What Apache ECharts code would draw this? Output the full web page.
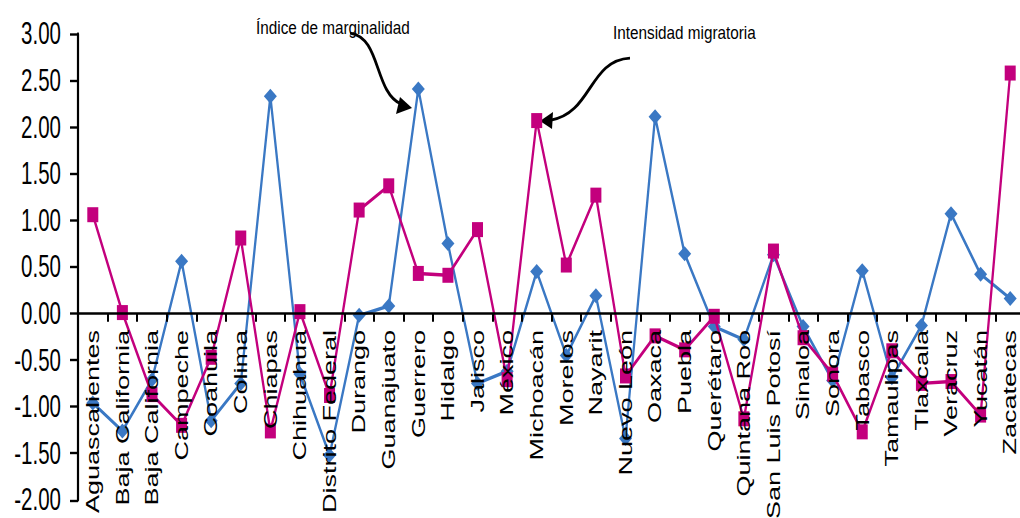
<!DOCTYPE html>
<html>
<head>
<meta charset="utf-8">
<script src="https://cdn.jsdelivr.net/npm/echarts@6/dist/echarts.min.js"></script>
<style>
  html, body { margin: 0; padding: 0; background: #fff; overflow: hidden; }
  #stage { width: 1020px; height: 518px; position: relative; overflow: hidden; }
  /* the chart is laid out at 2/3 height and stretched back to full height */
  #chart { position: absolute; left: 0; top: 0; width: 1020px; height: 345.333px;
           transform: scaleY(1.5); transform-origin: 0 0; }
</style>
</head>
<body>
<div id="stage"><div id="chart"></div></div>
<script>
const STRETCH = 1.5;

const estados = [
  'Aguascalientes', 'Baja California', 'Baja California', 'Campeche', 'Coahuila',
  'Colima', 'Chiapas', 'Chihuahua', 'Distrito Federal', 'Durango', 'Guanajuato',
  'Guerrero', 'Hidalgo', 'Jalisco', 'México', 'Michoacán', 'Morelos', 'Nayarit',
  'Nuevo León', 'Oaxaca', 'Puebla', 'Querétaro', 'Quintana Roo', 'San Luis Potosí',
  'Sinaloa', 'Sonora', 'Tabasco', 'Tamaulipas', 'Tlaxcala', 'Veracruz', 'Yucatán',
  'Zacatecas'
];

const indiceMarginalidad = [
  -0.96, -1.26, -0.71, 0.56, -1.15, -0.75, 2.33, -0.65, -1.52, -0.02, 0.08,
  2.41, 0.75, -0.75, -0.62, 0.45, -0.45, 0.19, -1.34, 2.11, 0.64, -0.14,
  -0.28, 0.63, -0.14, -0.72, 0.46, -0.69, -0.13, 1.07, 0.42, 0.16
];

const intensidadMigratoria = [
  1.06, 0.01, -0.87, -1.20, -0.47, 0.81, -1.26, 0.02, -0.88, 1.11, 1.37,
  0.43, 0.41, 0.90, -0.71, 2.07, 0.52, 1.27, -0.67, -0.24, -0.39, -0.03,
  -1.13, 0.67, -0.26, -0.65, -1.27, -0.40, -0.75, -0.73, -1.09, 2.58
];

const yMin = -2, yMax = 3, yStep = 0.5;

const FONT = "'Liberation Sans', Arial, sans-serif";
const BLUE = '#3A78C4';
const MAGENTA = '#C3007D';

// plot area in page pixels, converted to the unstretched layout
const plotTop = 33.9 / STRETCH;
const plotBottom = 499.9 / STRETCH;
const plotHeight = plotBottom - plotTop;
// the category axis sits on the zero line of the value axis
const zeroLift = (0 - yMin) / (yMax - yMin) * plotHeight;

const chart = echarts.init(document.getElementById('chart'), null, { renderer: 'svg' });

chart.setOption({
  animation: false,
  backgroundColor: '#fff',
  grid: {
    left: 78, width: 947,
    top: plotTop, height: plotHeight,
    containLabel: false,
    outerBoundsMode: 'none'
  },
  xAxis: {
    type: 'category',
    data: estados,
    boundaryGap: true,
    position: 'bottom',
    offset: -zeroLift,
    z: 10,
    axisLine: { onZero: false, lineStyle: { color: '#000', width: 1.7 } },
    axisTick: { show: true, length: 5.5, lineStyle: { color: '#000', width: 2 } },
    axisLabel: {
      interval: 0, rotate: 90, margin: 11, hideOverlap: false,
      fontFamily: FONT, fontSize: 18, color: '#000'
    },
    splitLine: { show: false }
  },
  yAxis: {
    type: 'value',
    min: yMin, max: yMax, interval: yStep,
    axisLine: { show: true, lineStyle: { color: '#000', width: 2.2 } },
    axisTick: { show: true, length: 8, lineStyle: { color: '#000', width: 1.6 } },
    axisLabel: {
      margin: 17, fontFamily: FONT, fontSize: 20.5, color: '#000',
      showMinLabel: true, showMaxLabel: true, hideOverlap: false,
      formatter: v => v.toFixed(2)
    },
    splitLine: { show: false }
  },
  series: [
    {
      name: 'Índice de marginalidad',
      type: 'line',
      data: indiceMarginalidad,
      symbol: 'diamond',
      symbolSize: [13, 10],
      itemStyle: { color: BLUE },
      lineStyle: { color: BLUE, width: 2.3 },
      z: 2
    },
    {
      name: 'Intensidad migratoria',
      type: 'line',
      data: intensidadMigratoria,
      symbol: 'rect',
      symbolSize: [11, 10],
      itemStyle: { color: MAGENTA },
      lineStyle: { color: MAGENTA, width: 2.3 },
      z: 3
    }
  ],
  graphic: {
    elements: [{
      // annotations drawn in page pixels: undo the vertical stretch
      type: 'group',
      scaleY: 1 / STRETCH,
      z: 20,
      children: [
        {
          type: 'text', x: 256, y: 27.5, scaleY: 1.22,
          style: { text: 'Índice de marginalidad', fontSize: 15.3, fontFamily: FONT,
                   fill: '#000', verticalAlign: 'middle', align: 'left' }
        },
        {
          type: 'text', x: 613, y: 32.5, scaleY: 1.22,
          style: { text: 'Intensidad migratoria', fontSize: 15.3, fontFamily: FONT,
                   fill: '#000', verticalAlign: 'middle', align: 'left' }
        },
        {
          type: 'bezierCurve',
          shape: { x1: 350, y1: 33, cpx1: 381, cpy1: 37, cpx2: 374, cpy2: 92, x2: 401, y2: 104 },
          style: { stroke: '#000', lineWidth: 2.8, fill: null }
        },
        {
          type: 'polygon',
          shape: { points: [[412, 108], [400, 97], [396, 114]] },
          style: { fill: '#000' }
        },
        {
          type: 'bezierCurve',
          shape: { x1: 630, y1: 58, cpx1: 589, cpy1: 60, cpx2: 592, cpy2: 113, x2: 551, y2: 120 },
          style: { stroke: '#000', lineWidth: 2.8, fill: null }
        },
        {
          type: 'polygon',
          shape: { points: [[540, 121], [553, 112], [552, 129]] },
          style: { fill: '#000' }
        }
      ]
    }]
  }
});
</script>
</body>
</html>
